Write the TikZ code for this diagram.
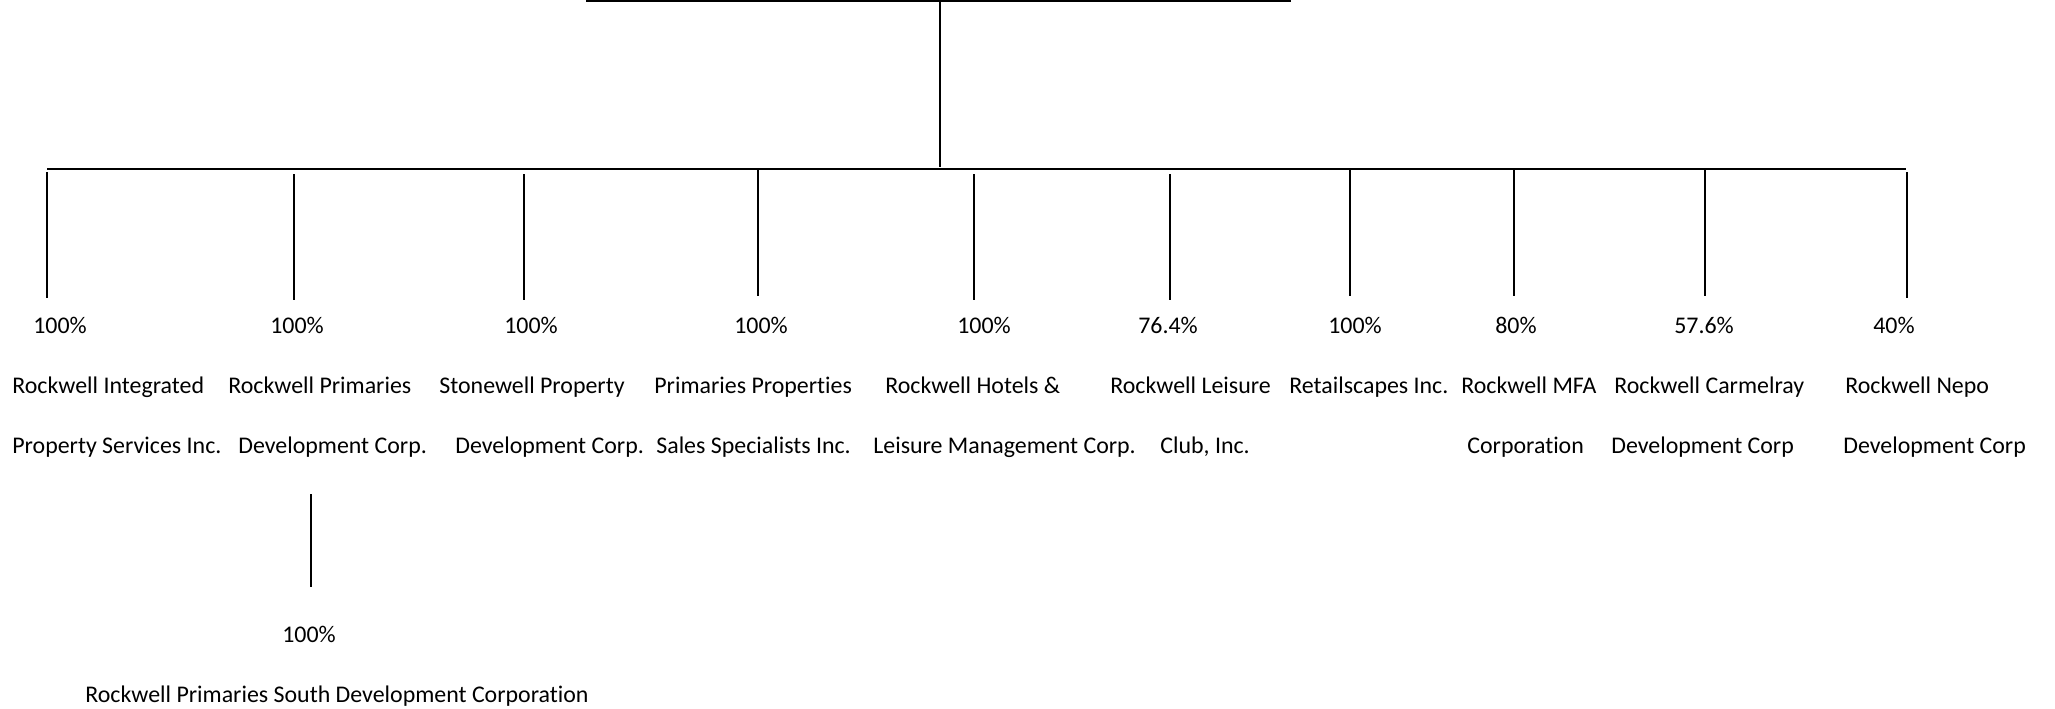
\documentclass[tikz,border=0pt]{standalone}
\usepackage{fontspec}
\setmainfont{Carlito}[Ligatures=NoCommon]
\begin{document}
\begin{tikzpicture}[x=0.02cm,y=-0.02cm,
  every node/.style={font=\fontsize{13.6}{16}\selectfont,inner sep=0pt},
  pct/.style={anchor=base},nm/.style={anchor=base west},
  link/.style={line width=0.85pt},bus/.style={line width=1.2pt}]
\useasboundingbox (0,0) rectangle (2055,708);
% parent line and stem
\coordinate(tl)at(586,1);\coordinate(tr)at(1291,1);\coordinate(top)at(940,1);\coordinate(stem)at(940,167);
\coordinate(bl)at(47,169);\coordinate(br)at(1906,169);
% drops
\coordinate(d1)at(47,172);\coordinate(e1)at(47,298);
\coordinate(d2)at(294,174);\coordinate(e2)at(294,300);
\coordinate(d3)at(524,174);\coordinate(e3)at(524,300);
\coordinate(d4)at(758,169);\coordinate(e4)at(758,296);
\coordinate(d5)at(974,174);\coordinate(e5)at(974,300);
\coordinate(d6)at(1170,174);\coordinate(e6)at(1170,300);
\coordinate(d7)at(1350,169);\coordinate(e7)at(1350,296);
\coordinate(d8)at(1514,169);\coordinate(e8)at(1514,296);
\coordinate(d9)at(1705,169);\coordinate(e9)at(1705,296);
\coordinate(d10)at(1907,172);\coordinate(e10)at(1907,298);
\coordinate(s1)at(311,494);\coordinate(s2)at(311,587);
% shares
\node[pct] (p1) at (60,333) {100\%};
\node[pct] (p2) at (297,333) {100\%};
\node[pct] (p3) at (531,333) {100\%};
\node[pct] (p4) at (761,333) {100\%};
\node[pct] (p5) at (984,333) {100\%};
\node[pct] (p6) at (1168,333) {76.4\%};
\node[pct] (p7) at (1355,333) {100\%};
\node[pct] (p8) at (1516,333) {80\%};
\node[pct] (p9) at (1704,333) {57.6\%};
\node[pct] (p10) at (1894,333) {40\%};
\node[pct] (p11) at (309,642) {100\%};
% companies
\node[nm] (n1a) at (12,393) {Rockwell Integrated};
\node[nm] (n1b) at (12,453) {Property Services Inc.};
\node[nm] (n2a) at (228,393) {Rockwell Primaries};
\node[nm] (n2b) at (238,453) {Development Corp.};
\node[nm] (n3a) at (439,393) {Stonewell Property};
\node[nm] (n3b) at (455,453) {Development Corp.};
\node[nm] (n4a) at (654,393) {Primaries Properties};
\node[nm] (n4b) at (656,453) {Sales Specialists Inc.};
\node[nm] (n5a) at (885,393) {Rockwell Hotels \&};
\node[nm] (n5b) at (873,453) {Leisure Management Corp.};
\node[nm] (n6a) at (1110,393) {Rockwell Leisure};
\node[nm] (n6b) at (1160,453) {Club, Inc.};
\node[nm] (n7a) at (1289,393) {Retailscapes Inc.};
\node[nm] (n8a) at (1461,393) {Rockwell MFA};
\node[nm] (n8b) at (1467,453) {Corporation};
\node[nm] (n9a) at (1614,393) {Rockwell Carmelray};
\node[nm] (n9b) at (1611,453) {Development Corp};
\node[nm] (n10a) at (1845,393) {Rockwell Nepo};
\node[nm] (n10b) at (1843,453) {Development Corp};
\node[nm] (n11) at (85,702) {Rockwell Primaries South Development Corporation};
\draw[link] (tl)--(tr) (top)--(stem);
\draw[bus] (bl)--(br);
\draw[link] (d1)--(e1) (d2)--(e2) (d3)--(e3) (d4)--(e4) (d5)--(e5) (d6)--(e6) (d7)--(e7) (d8)--(e8) (d9)--(e9) (d10)--(e10) (s1)--(s2);
\end{tikzpicture}
\end{document}
